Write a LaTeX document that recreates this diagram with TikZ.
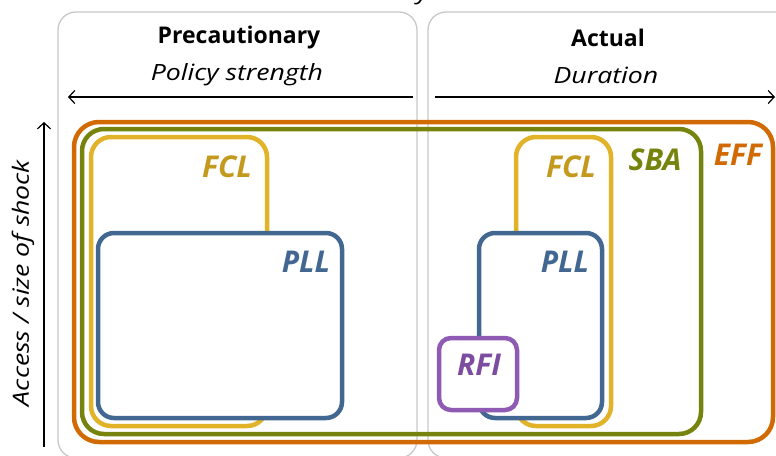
\documentclass[tikz,border=0pt]{standalone}
\usepackage{fontspec}
\setmainfont{Open Sans}
\newfontfamily\wideit{Open Sans}[FakeStretch=1.19]
\usetikzlibrary{arrows.meta}

\definecolor{effc}{RGB}{210,106,4}
\definecolor{sbac}{RGB}{118,131,12}
\definecolor{fclc}{RGB}{226,178,40}
\definecolor{fclt}{RGB}{196,154,30}
\definecolor{pllc}{RGB}{66,103,144}
\definecolor{rfic}{RGB}{142,90,180}
\definecolor{rfit}{RGB}{124,76,160}
\definecolor{panelc}{RGB}{200,200,200}

\tikzset{
  panel/.style={draw=panelc, line width=1.3pt, rounded corners=18pt},
  setbox/.style={draw=#1, line width=4.5pt, inner sep=0pt, outer sep=0pt},
  filledbox/.style={setbox=#1, fill=white},
  setlabel/.style={text=#1, font=\fontsize{30}{33}\selectfont\bfseries\itshape, inner sep=0pt},
  head/.style={font=\fontsize{23}{27}\selectfont\bfseries, inner sep=0pt},
  axislabel/.style={font=\wideit\fontsize{22.4}{26}\selectfont\itshape, inner sep=0pt},
  axis/.style={line width=1.2pt, -{Straight Barb[length=6pt,width=13pt,line width=1.2pt]}},
}

\begin{document}
\begin{tikzpicture}[x=1pt,y=-1pt]
\useasboundingbox (0,0) rectangle (776,455);
\clip (0,0) rectangle (776,455);

% two column panels
\draw[panel] (58,12) rectangle (417,458);
\draw[panel] (428,12) rectangle (810,458);

% descender of the title above the panels
\node[axislabel, anchor=base] (topy) at (423,0) {y};

% column headings
\node[head] (prec) at (239,38) {Precautionary};
\node[head] (act) at (608,38) {Actual};
\node[axislabel] (pol) at (237,75) {Policy strength};
\node[axislabel] (dur) at (606,75) {Duration};

% axes
\coordinate (la) at (413,97);
\coordinate (lb) at (68,97);
\coordinate (ra) at (435,97);
\coordinate (rb) at (775,97);
\coordinate (va) at (44,447);
\coordinate (vb) at (44,122);
\draw[axis] (la) -- (lb);
\draw[axis] (ra) -- (rb);
\draw[axis] (va) -- (vb);
\node[axislabel, rotate=90] (acc) at (23,283) {Access / size of shock};

% nested sets
\node[setbox=effc, rounded corners=25pt, minimum width=699pt, minimum height=320pt] (eff) at (423.5,282) {};
\node[setbox=sbac, rounded corners=22pt, minimum width=619pt, minimum height=305pt] (sba) at (391.5,281.5) {};
\node[filledbox=fclc, rounded corners=20pt, minimum width=176pt, minimum height=289pt] (fcll) at (179,281.5) {};
\node[filledbox=pllc, rounded corners=16pt, minimum width=244pt, minimum height=185pt] (plll) at (220,325.5) {};
\node[filledbox=fclc, rounded corners=20pt, minimum width=95pt, minimum height=289pt] (fclr) at (563.5,281.5) {};
\node[filledbox=pllc, rounded corners=16pt, minimum width=123pt, minimum height=185pt] (pllr) at (540.5,325.5) {};
\node[filledbox=rfic, rounded corners=12pt, minimum width=78pt, minimum height=72pt] (rfi) at (478,374) {};

% set labels
\node[setlabel=fclt] (fcllt) at (227,167) {FCL};
\node[setlabel=pllc] (plllt) at (306,262) {PLL};
\node[setlabel=fclt] (fclrt) at (571,167) {FCL};
\node[setlabel=pllc] (pllrt) at (565,262) {PLL};
\node[setlabel=rfit] (rfit) at (479,365) {RFI};
\node[setlabel=sbac] (sbat) at (655,160) {SBA};
\node[setlabel=effc] (efft) at (738,155) {EFF};
\end{tikzpicture}
\end{document}
